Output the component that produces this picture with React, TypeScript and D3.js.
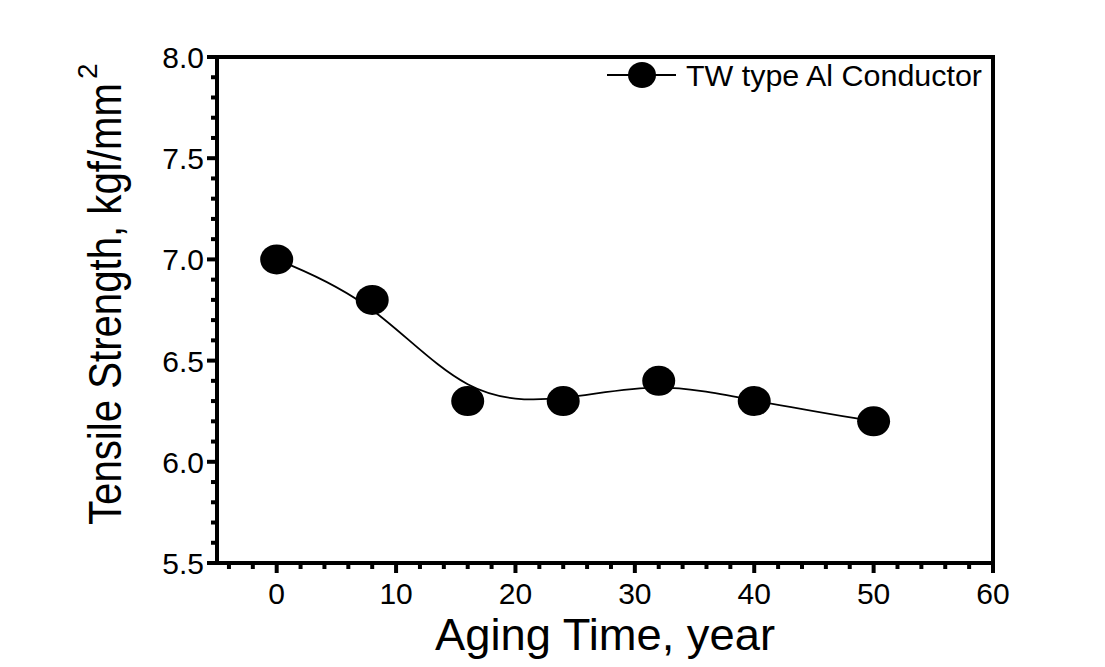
import React from "react";
import * as d3 from "d3";

const agingYears = [0, 8, 16, 24, 32, 40, 50];
const tensileStrength = [7.0, 6.8, 6.3, 6.3, 6.4, 6.3, 6.2];
const xTickValues = [0, 10, 20, 30, 40, 50, 60];
const yTickValues = [5.5, 6.0, 6.5, 7.0, 7.5, 8.0];
const seriesName = "TW type Al Conductor";

export default function App() {
  const W = 1105, H = 667;
  const left = 217, right = 993, top = 57, bottom = 563;
  const x = d3.scaleLinear().domain([-5, 60]).range([left, right]);
  const y = d3.scaleLinear().domain([5.5, 8.0]).range([bottom, top]);
  const pts: [number, number][] = agingYears.map((a, i) => [x(a), y(tensileStrength[i])]);
  const line = d3.line().curve(d3.curveBasis)(pts) || "";
  const xMinor = d3.range(-4, 60, 2).filter((v) => v % 10 !== 0);
  const yMinor = d3.range(56, 80, 1).map((v) => v / 10).filter((v) => Math.round(v * 10) % 5 !== 0);
  const font = "'Liberation Sans', Arial, sans-serif";
  return (
    <svg width={W} height={H} style={{ position: "absolute", left: 0, top: 0, background: "#fff" }} fontFamily={font}>
      <rect x={0} y={0} width={W} height={H} fill="#fff" />
      <path d={line} fill="none" stroke="#000" strokeWidth={1.8} />
      {pts.map((p, i) => (
        <ellipse key={i} cx={p[0]} cy={p[1]} rx={16.5} ry={15} fill="#000" />
      ))}
      <rect x={left} y={top} width={right - left} height={bottom - top} fill="none" stroke="#000" strokeWidth={4} />
      {xTickValues.map((v) => (
        <g key={"xt" + v}>
          <line x1={x(v)} x2={x(v)} y1={bottom} y2={bottom + 10} stroke="#000" strokeWidth={4} />
          <text x={x(v)} y={604} fontSize={30} textAnchor="middle" fill="#000">{v}</text>
        </g>
      ))}
      {xMinor.map((v) => (
        <line key={"xm" + v} x1={x(v)} x2={x(v)} y1={bottom} y2={bottom + 6} stroke="#000" strokeWidth={4} />
      ))}
      {yTickValues.map((v) => (
        <g key={"yt" + v}>
          <line x1={left - 10} x2={left} y1={y(v)} y2={y(v)} stroke="#000" strokeWidth={4} />
          <text x={204} y={y(v) + 11} fontSize={30} textAnchor="end" fill="#000">{v.toFixed(1)}</text>
        </g>
      ))}
      {yMinor.map((v) => (
        <line key={"ym" + v} x1={left - 6} x2={left} y1={y(v)} y2={y(v)} stroke="#000" strokeWidth={4} />
      ))}
      <line x1={607} x2={676} y1={75} y2={75} stroke="#000" strokeWidth={2} />
      <ellipse cx={642} cy={75} rx={14} ry={13} fill="#000" />
      <text x={686} y={86} fontSize={30} fill="#000" textLength={296} lengthAdjust="spacingAndGlyphs">{seriesName}</text>
      <text x={605} y={650} fontSize={45} textAnchor="middle" fill="#000" textLength={340} lengthAdjust="spacingAndGlyphs">Aging Time, year</text>
      <g transform="translate(121,525) rotate(-90)">
        <text x={0} y={0} fontSize={47} fill="#000" textLength={442} lengthAdjust="spacingAndGlyphs">Tensile Strength, kgf/mm</text>
        <text x={446} y={-24} fontSize={28} fill="#000">2</text>
      </g>
    </svg>
  );
}
